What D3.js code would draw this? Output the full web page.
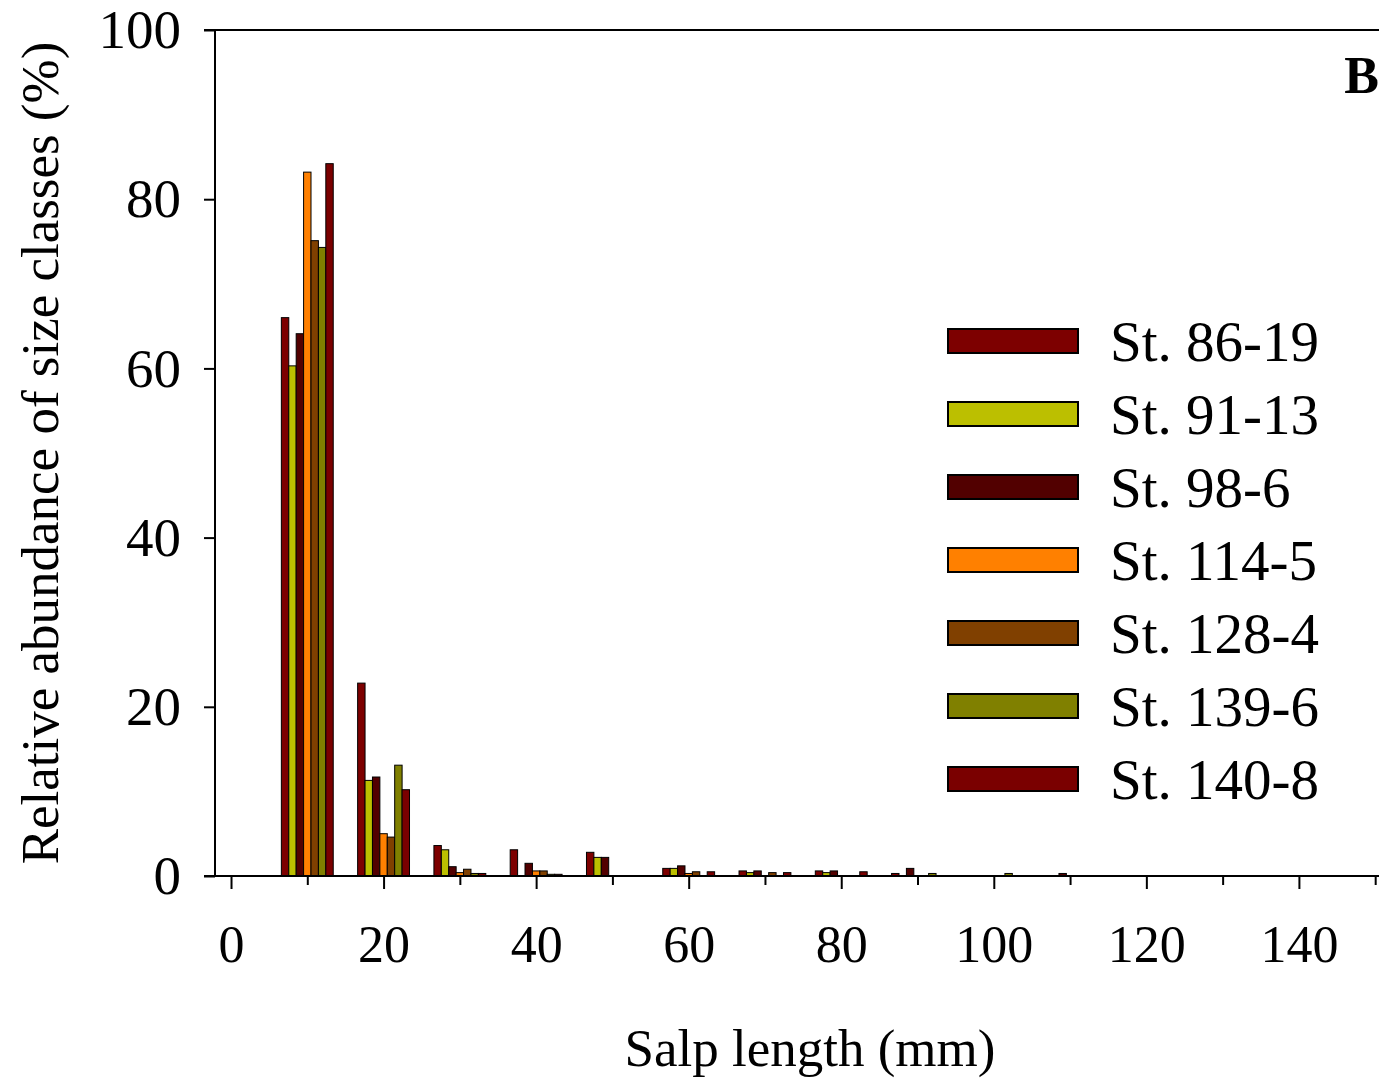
<!DOCTYPE html>
<html>
<head>
<meta charset="utf-8">
<script src="https://cdn.jsdelivr.net/npm/d3@7"></script>
<style>
  body { margin: 0; background: #fff; }
  svg text { font-family: "Liberation Serif", "Times New Roman", serif; fill: #000; }
</style>
</head>
<body>
<div id="chart"></div>
<script>
// size classes (mm, class midpoints)
var sizeClasses = [10, 20, 30, 40, 50, 60, 70, 80, 90, 100, 110];

var stations = ["St. 86-19", "St. 91-13", "St. 98-6", "St. 114-5", "St. 128-4", "St. 139-6", "St. 140-8"];
var stationColors = ["#7d0000", "#bcbf00", "#520000", "#ff8000", "#804000", "#808000", "#7a0000"];

// relative abundance (%) per station, one value per size class
var st86_19 = [66.0, 22.8, 3.6, 3.1, 2.8, 0.9, 0.6, 0.6, 0.3, 0, 0];
var st91_13 = [60.3, 11.3, 3.1, 0, 2.2, 0.9, 0.4, 0.4, 0, 0, 0];
var st98_6  = [64.1, 11.7, 1.1, 1.5, 2.2, 1.2, 0.6, 0.6, 0.9, 0, 0.3];
var st114_5 = [83.2, 5.0, 0.4, 0.6, 0, 0.3, 0, 0, 0, 0, 0];
var st128_4 = [75.1, 4.6, 0.8, 0.6, 0, 0.5, 0.4, 0, 0, 0, 0];
var st139_6 = [74.3, 13.1, 0.3, 0.2, 0, 0, 0, 0, 0.3, 0.3, 0];
var st140_8 = [84.2, 10.2, 0.3, 0.2, 0, 0.5, 0.4, 0.5, 0, 0, 0];

var seriesValues = [st86_19, st91_13, st98_6, st114_5, st128_4, st139_6, st140_8];

var xTicks = [0, 10, 20, 30, 40, 50, 60, 70, 80, 90, 100, 110, 120, 130, 140, 150];
var xTickLabels = ["0", "", "20", "", "40", "", "60", "", "80", "", "100", "", "120", "", "140", ""];
var yTicks = [0, 20, 40, 60, 80, 100];

var width = 1379, height = 1078;
var plotLeft = 215, plotTop = 30, plotBottom = 876, plotRight = 1379;

var svg = d3.select("#chart")
    .append("svg")
    .attr("width", width)
    .attr("height", height);

var x = d3.scaleLinear().domain([-2.1, 150.5]).range([plotLeft, plotRight]);
var y = d3.scaleLinear().domain([0, 100]).range([plotBottom, plotTop]);

// bars of one size class share this span around the class midpoint
var halfGroup = 3.4;
var inner = d3.scaleBand().domain(d3.range(stations.length)).paddingInner(0).paddingOuter(0);

function groupBand(c) {
    return inner.copy().range([x(c - halfGroup), x(c + halfGroup)]);
}

var rows = [];
sizeClasses.forEach(function(c, i) {
    seriesValues.forEach(function(vals, s) {
        if (vals[i] > 0) rows.push({cls: c, s: s, v: vals[i]});
    });
});

svg.append("g")
    .selectAll("rect")
    .data(rows)
    .enter()
    .append("rect")
    .attr("x", function(d) { return groupBand(d.cls)(d.s); })
    .attr("width", function(d) { return groupBand(d.cls).bandwidth(); })
    .attr("y", function(d) { return y(d.v); })
    .attr("height", function(d) { return y(0) - y(d.v); })
    .attr("fill", function(d) { return stationColors[d.s]; })
    .attr("stroke", "#000")
    .attr("stroke-width", 1);

// x axis
var xAxis = svg.append("g")
    .attr("transform", "translate(0," + plotBottom + ")")
    .call(d3.axisBottom(x).tickValues(xTicks).tickSize(0).tickFormat(""));
xAxis.select(".domain").remove();
svg.append("line")
    .attr("x1", plotLeft - 11).attr("x2", plotRight)
    .attr("y1", plotBottom).attr("y2", plotBottom)
    .attr("stroke", "#000").attr("stroke-width", 2);
xAxis.selectAll(".tick line")
    .attr("y2", function(d) { return d % 20 === 0 ? 13 : 9; })
    .attr("stroke", "#000")
    .attr("stroke-width", 2);
xAxis.selectAll(".tick text")
    .text(function(d, i) { return xTickLabels[i]; })
    .attr("y", 86)
    .attr("dy", 0)
    .style("font-size", "52px")
    .style("font-family", "Liberation Serif, serif")
    .attr("fill", "#000");

// top frame line
svg.append("line")
    .attr("x1", plotLeft - 11).attr("x2", plotRight)
    .attr("y1", plotTop).attr("y2", plotTop)
    .attr("stroke", "#000").attr("stroke-width", 2);

// y axis
var yAxis = svg.append("g")
    .attr("transform", "translate(" + plotLeft + ",0)")
    .call(d3.axisLeft(y).tickValues(yTicks).tickSize(11).tickPadding(23));
yAxis.select(".domain").attr("stroke-width", 2).attr("d", "M0," + plotTop + "V" + plotBottom);
yAxis.selectAll(".tick line").attr("stroke-width", 2);
yAxis.selectAll(".tick text")
    .style("font-size", "55px")
    .style("font-family", "Liberation Serif, serif")
    .attr("fill", "#000");

// axis titles
svg.append("text")
    .attr("x", 810)
    .attr("y", 1066)
    .attr("text-anchor", "middle")
    .style("font-size", "53px")
    .text("Salp length (mm)");

svg.append("text")
    .attr("transform", "translate(58,453) rotate(-90)")
    .attr("text-anchor", "middle")
    .style("font-size", "53px")
    .text("Relative abundance of size classes (%)");

// panel letter
svg.append("text")
    .attr("x", 1379)
    .attr("y", 93)
    .attr("text-anchor", "end")
    .style("font-size", "52px")
    .style("font-weight", "bold")
    .text("B");

// legend
var legend = svg.append("g")
    .selectAll("g")
    .data(stations)
    .enter()
    .append("g")
    .attr("transform", function(d, i) { return "translate(948," + (341 + i * 73) + ")"; });

legend.append("rect")
    .attr("x", 0)
    .attr("y", -12)
    .attr("width", 130)
    .attr("height", 24)
    .attr("fill", function(d, i) { return stationColors[i]; })
    .attr("stroke", "#000")
    .attr("stroke-width", 2);

legend.append("text")
    .attr("x", 162)
    .attr("y", 20)
    .style("font-size", "57px")
    .text(function(d) { return d; });
</script>
</body>
</html>
